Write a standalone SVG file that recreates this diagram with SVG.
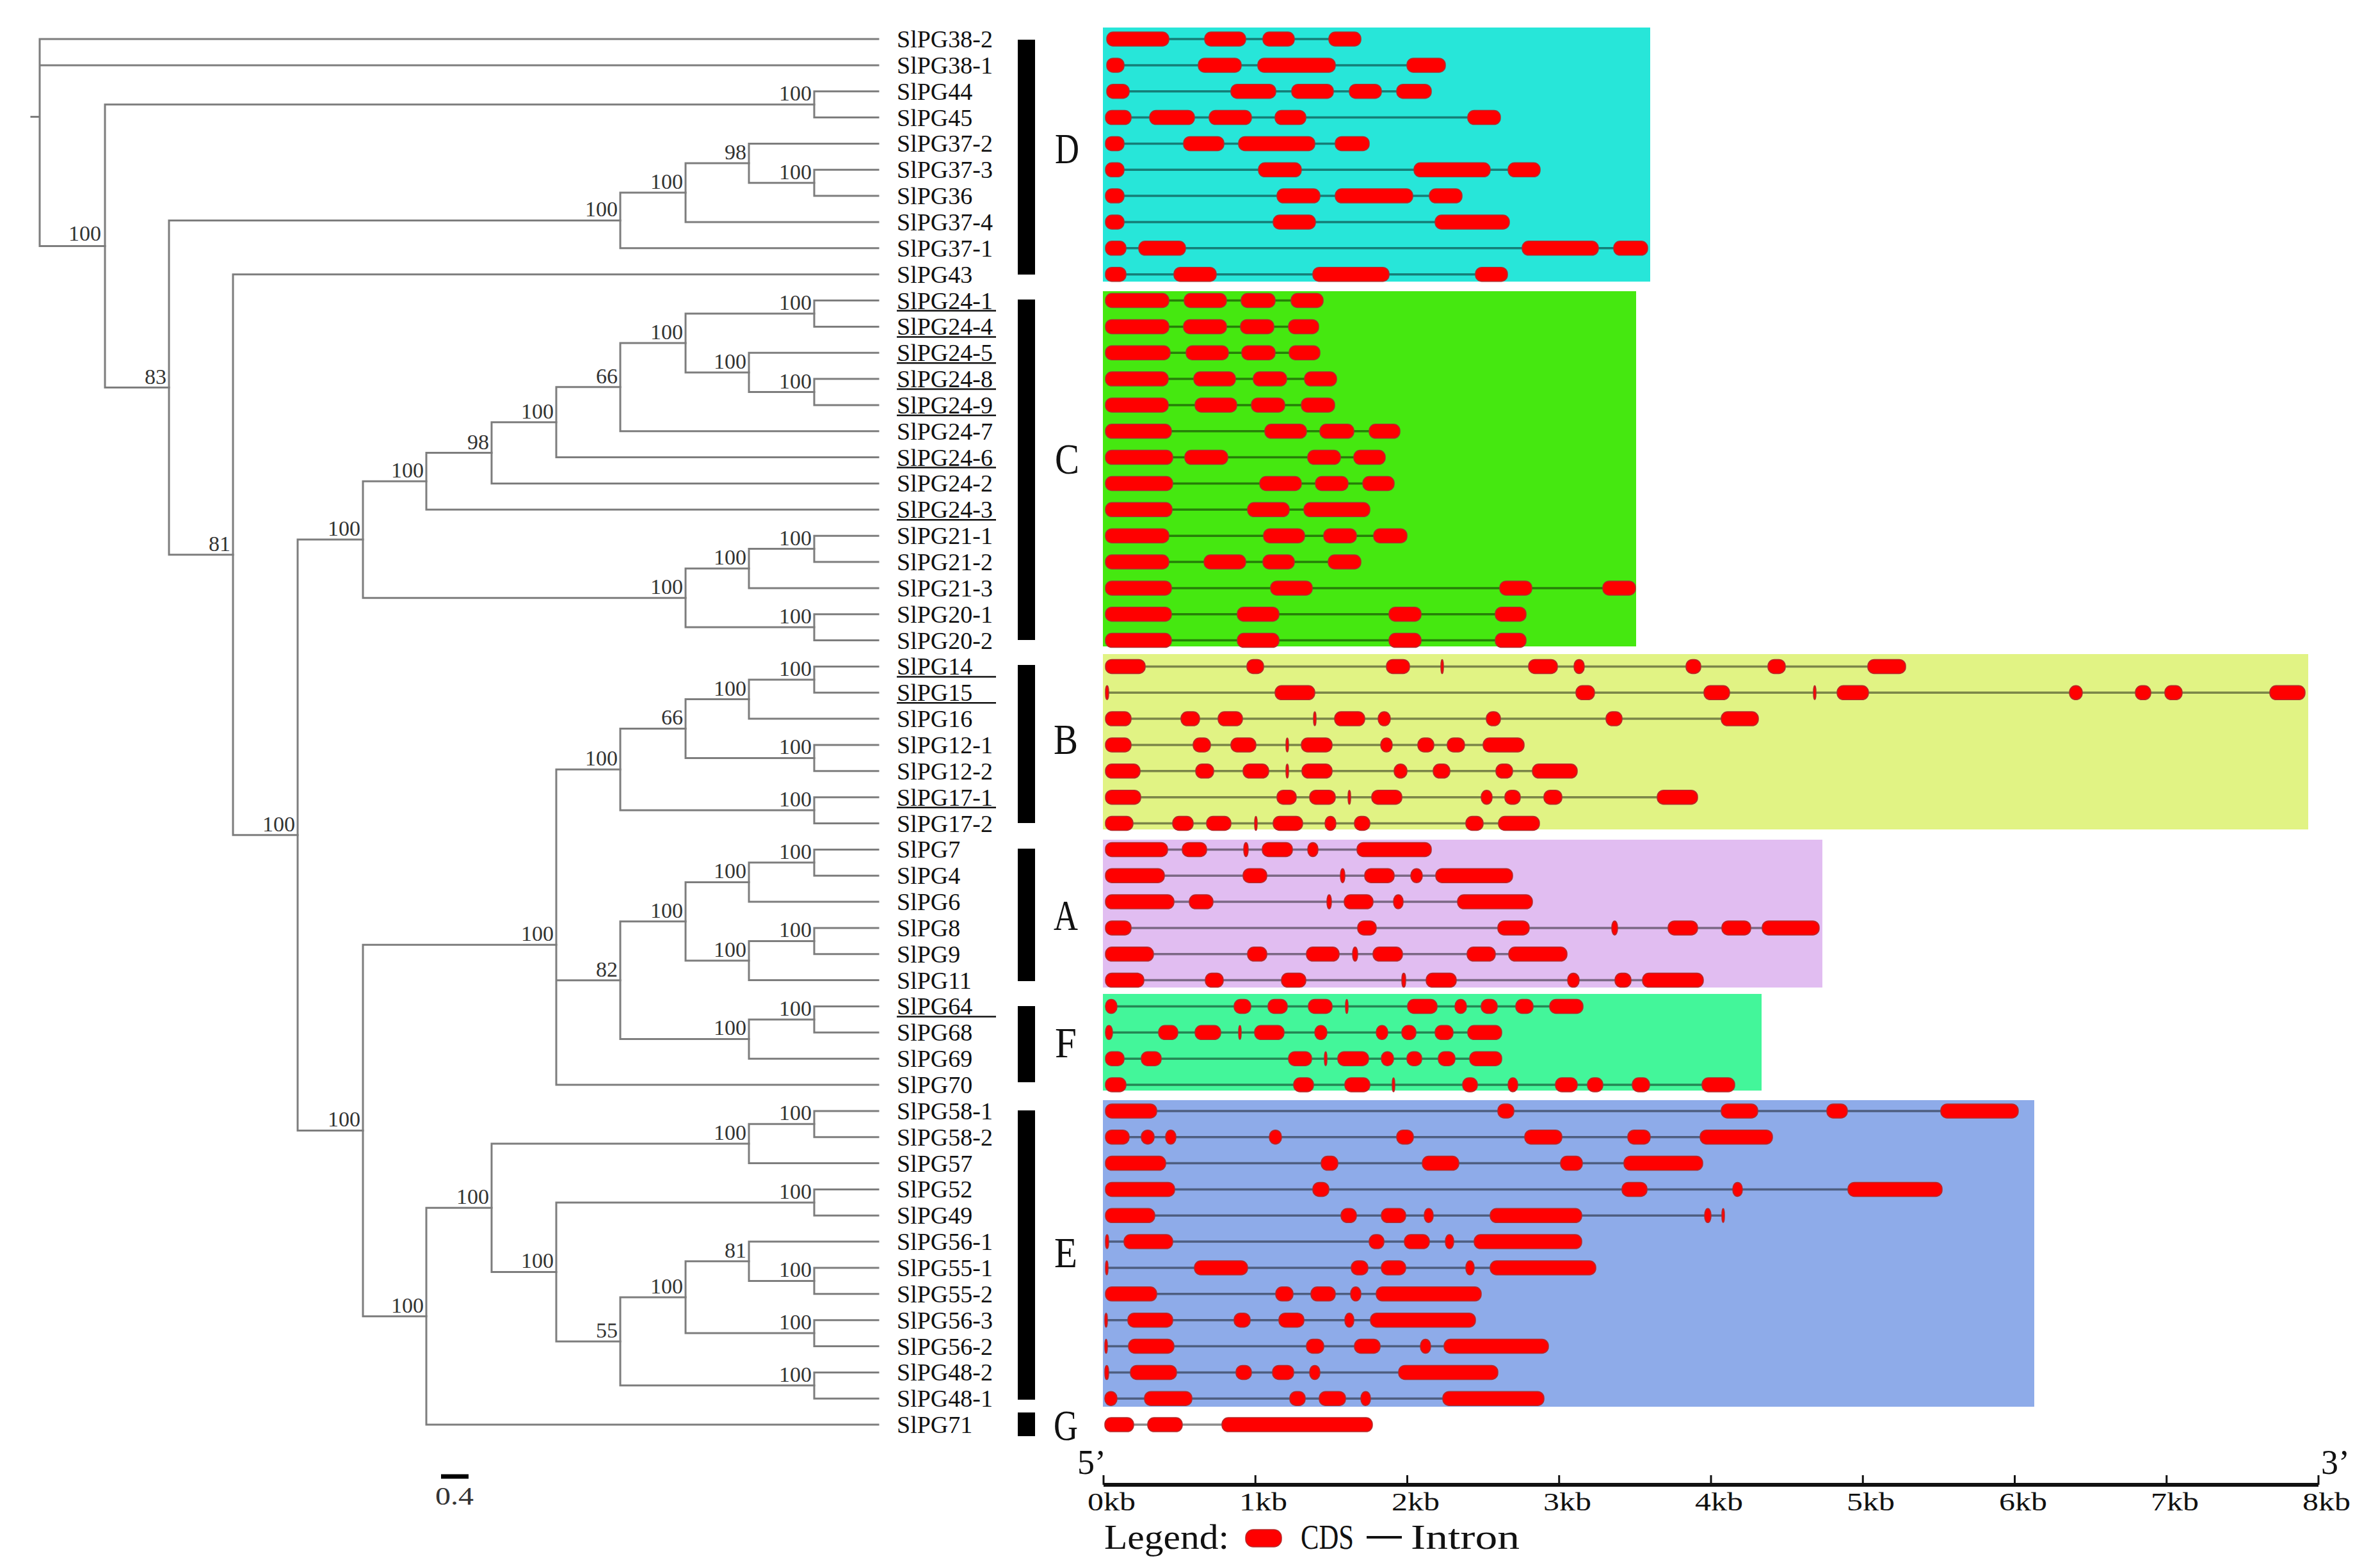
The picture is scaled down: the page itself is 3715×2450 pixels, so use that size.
<svg xmlns="http://www.w3.org/2000/svg" width="3715" height="2450" viewBox="0 0 3715 2450">
<style>
.br{stroke:#7d7d7d;stroke-width:3;fill:none;stroke-linecap:square}
.lf{font-family:"Liberation Serif",serif;font-size:38px;fill:#111}
.bs{font-family:"Liberation Serif",serif;font-size:34px;fill:#333;text-anchor:end}
.ul{stroke:#111;stroke-width:2.5}
.cl{font-family:"Liberation Serif",serif;font-size:68px;fill:#111;text-anchor:middle}
.in{stroke:#000;stroke-opacity:0.45;stroke-width:3.5}
.ex{fill:#ff0000;stroke:#b52a2a;stroke-width:1.5;rx:10px;ry:10px}
.ax{font-family:"Liberation Serif",serif;font-size:40px;fill:#111}
.lg{font-family:"Liberation Serif",serif;font-size:54px;fill:#111}
</style>
<rect width="3715" height="2450" fill="#fff"/>

<!-- clade background panels -->
<g id="panels">
<rect x="1723" y="43" width="855" height="397" fill="#27e6d9"/>
<rect x="1723" y="455" width="833" height="555" fill="#45e810"/>
<rect x="1723" y="1022" width="1883" height="274" fill="#e1f384"/>
<rect x="1723" y="1312" width="1124" height="231" fill="#e1bdf1"/>
<rect x="1723" y="1553" width="1029" height="151" fill="#43f69a"/>
<rect x="1723" y="1719" width="1455" height="479" fill="#8eabe9"/>
</g>

<!-- tree branches -->
<g id="connectors" class="br">
<path d="M62,61V384.4M62,61H1372M62,101.9H1372M62,384.4H164M49,182.4H62"/>
<path d="M164,163.2V605.6M164,163.2H1272M164,605.6H264"/>
<path d="M1272,142.7V183.6M1272,142.7H1372M1272,183.6H1372"/>
<path d="M264,344.4V866.8M264,344.4H969M264,866.8H364"/>
<path d="M969,301V387.8M969,301H1071M969,387.8H1372"/>
<path d="M1071,255V347M1071,255H1170M1071,347H1372"/>
<path d="M1170,224.4V285.7M1170,224.4H1372M1170,285.7H1272"/>
<path d="M1272,265.3V306.1M1272,265.3H1372M1272,306.1H1372"/>
<path d="M364,428.7V1304.8M364,428.7H1372M364,1304.8H465"/>
<path d="M465,843.1V1766.5M465,843.1H567M465,1766.5H567"/>
<path d="M567,752V934.2M567,752H666M567,934.2H1071"/>
<path d="M666,707.6V796.3M666,707.6H768M666,796.3H1372"/>
<path d="M768,659.7V755.5M768,659.7H869M768,755.5H1372"/>
<path d="M869,604.8V714.6M869,604.8H969M869,714.6H1372"/>
<path d="M969,535.9V673.8M969,535.9H1071M969,673.8H1372"/>
<path d="M1071,490V581.9M1071,490H1272M1071,581.9H1170"/>
<path d="M1272,469.5V510.4M1272,469.5H1372M1272,510.4H1372"/>
<path d="M1170,551.2V612.5M1170,551.2H1372M1170,612.5H1272"/>
<path d="M1272,592.1V632.9M1272,592.1H1372M1272,632.9H1372"/>
<path d="M1071,888.2V980.1M1071,888.2H1170M1071,980.1H1272"/>
<path d="M1170,857.6V918.9M1170,857.6H1272M1170,918.9H1372"/>
<path d="M1272,837.2V878M1272,837.2H1372M1272,878H1372"/>
<path d="M1272,959.7V1000.6M1272,959.7H1372M1272,1000.6H1372"/>
<path d="M567,1476.3V2056.7M567,1476.3H869M567,2056.7H666"/>
<path d="M869,1202.3V1695M869,1202.3H969M869,1531.7H969M869,1695H1372"/>
<path d="M969,1138.5V1266.1M969,1138.5H1071M969,1266.1H1272"/>
<path d="M1071,1092.5V1184.4M1071,1092.5H1170M1071,1184.4H1272"/>
<path d="M1170,1061.9V1123.1M1170,1061.9H1272M1170,1123.1H1372"/>
<path d="M1272,1041.4V1082.3M1272,1041.4H1372M1272,1082.3H1372"/>
<path d="M1272,1164V1204.8M1272,1164H1372M1272,1204.8H1372"/>
<path d="M1272,1245.7V1286.5M1272,1245.7H1372M1272,1286.5H1372"/>
<path d="M969,1439.8V1623.6M969,1439.8H1071M969,1623.6H1170"/>
<path d="M1071,1378.5V1501M1071,1378.5H1170M1071,1501H1170"/>
<path d="M1170,1347.8V1409.1M1170,1347.8H1272M1170,1409.1H1372"/>
<path d="M1272,1327.4V1368.2M1272,1327.4H1372M1272,1368.2H1372"/>
<path d="M1170,1470.4V1531.6M1170,1470.4H1272M1170,1531.6H1372"/>
<path d="M1272,1449.9V1490.8M1272,1449.9H1372M1272,1490.8H1372"/>
<path d="M1170,1592.9V1654.2M1170,1592.9H1272M1170,1654.2H1372"/>
<path d="M1272,1572.5V1613.3M1272,1572.5H1372M1272,1613.3H1372"/>
<path d="M666,1887.2V2226.1M666,1887.2H768M666,2226.1H1372"/>
<path d="M768,1787V1987.4M768,1787H1170M768,1987.4H869"/>
<path d="M1170,1756.3V1817.6M1170,1756.3H1272M1170,1817.6H1372"/>
<path d="M1272,1735.9V1776.7M1272,1735.9H1372M1272,1776.7H1372"/>
<path d="M869,1878.9V2095.9M869,1878.9H1272M869,2095.9H969"/>
<path d="M1272,1858.4V1899.3M1272,1858.4H1372M1272,1899.3H1372"/>
<path d="M969,2027V2164.8M969,2027H1071M969,2164.8H1272"/>
<path d="M1071,1970.8V2083.1M1071,1970.8H1170M1071,2083.1H1272"/>
<path d="M1170,1940.1V2001.4M1170,1940.1H1372M1170,2001.4H1272"/>
<path d="M1272,1981V2021.8M1272,1981H1372M1272,2021.8H1372"/>
<path d="M1272,2062.7V2103.5M1272,2062.7H1372M1272,2103.5H1372"/>
<path d="M1272,2144.4V2185.2M1272,2144.4H1372M1272,2185.2H1372"/>
</g>

<!-- internal nodes: bootstrap values -->
<g id="bootstrap">
<text id="n1" class="bs" x="158" y="376">100</text>
<text id="n4445" class="bs" x="1268" y="157">100</text>
<text id="n2" class="bs" x="260" y="600">83</text>
<text id="nD" class="bs" x="965" y="338">100</text>
<text id="nD2" class="bs" x="1067" y="295">100</text>
<text id="nD3" class="bs" x="1166" y="249">98</text>
<text id="nD4" class="bs" x="1268" y="280">100</text>
<text id="n3" class="bs" x="360" y="861">81</text>
<text id="n4" class="bs" x="461" y="1299">100</text>
<text id="n5" class="bs" x="563" y="837">100</text>
<text id="nC1" class="bs" x="662" y="746">100</text>
<text id="nC2" class="bs" x="764" y="702">98</text>
<text id="nC3" class="bs" x="865" y="654">100</text>
<text id="nC4" class="bs" x="965" y="599">66</text>
<text id="nC5" class="bs" x="1067" y="530">100</text>
<text id="nC6" class="bs" x="1268" y="484">100</text>
<text id="nC7" class="bs" x="1166" y="576">100</text>
<text id="nC8" class="bs" x="1268" y="607">100</text>
<text id="nC9" class="bs" x="1067" y="928">100</text>
<text id="nC10" class="bs" x="1166" y="882">100</text>
<text id="nC11" class="bs" x="1268" y="852">100</text>
<text id="nC12" class="bs" x="1268" y="974">100</text>
<text id="n6" class="bs" x="563" y="1760">100</text>
<text id="n7" class="bs" x="865" y="1470">100</text>
<text id="nB1" class="bs" x="965" y="1196">100</text>
<text id="nB2" class="bs" x="1067" y="1132">66</text>
<text id="nB3" class="bs" x="1166" y="1087">100</text>
<text id="nB4" class="bs" x="1268" y="1056">100</text>
<text id="nB5" class="bs" x="1268" y="1178">100</text>
<text id="nB6" class="bs" x="1268" y="1260">100</text>
<text id="n82" class="bs" x="965" y="1526">82</text>
<text id="nA1" class="bs" x="1067" y="1434">100</text>
<text id="nA2" class="bs" x="1166" y="1372">100</text>
<text id="nA3" class="bs" x="1268" y="1342">100</text>
<text id="nA4" class="bs" x="1166" y="1495">100</text>
<text id="nA5" class="bs" x="1268" y="1464">100</text>
<text id="nF1" class="bs" x="1166" y="1617">100</text>
<text id="nF2" class="bs" x="1268" y="1587">100</text>
<text id="nE0" class="bs" x="662" y="2051">100</text>
<text id="nE1" class="bs" x="764" y="1881">100</text>
<text id="nE2" class="bs" x="1166" y="1781">100</text>
<text id="nE3" class="bs" x="1268" y="1750">100</text>
<text id="nE4" class="bs" x="865" y="1981">100</text>
<text id="nE5" class="bs" x="1268" y="1873">100</text>
<text id="nE6" class="bs" x="965" y="2090">55</text>
<text id="nE7" class="bs" x="1067" y="2021">100</text>
<text id="nE8" class="bs" x="1166" y="1965">81</text>
<text id="nE9" class="bs" x="1268" y="1995">100</text>
<text id="nE10" class="bs" x="1268" y="2077">100</text>
<text id="nE11" class="bs" x="1268" y="2159">100</text>
</g>

<!-- subfamily bars and letters -->
<g id="subfamilies">
<rect x="1590" y="62" width="27" height="367" fill="#000"/>
<rect x="1590" y="468" width="27" height="532" fill="#000"/>
<rect x="1590" y="1039" width="27" height="247" fill="#000"/>
<rect x="1590" y="1326" width="27" height="207" fill="#000"/>
<rect x="1590" y="1572" width="27" height="119" fill="#000"/>
<rect x="1590" y="1735" width="27" height="452" fill="#000"/>
<rect x="1590" y="2207" width="27" height="37" fill="#000"/>
<text class="cl" x="1667" y="255" textLength="38" lengthAdjust="spacingAndGlyphs">D</text>
<text class="cl" x="1667" y="740" textLength="38" lengthAdjust="spacingAndGlyphs">C</text>
<text class="cl" x="1665" y="1178" textLength="38" lengthAdjust="spacingAndGlyphs">B</text>
<text class="cl" x="1665" y="1453" textLength="38" lengthAdjust="spacingAndGlyphs">A</text>
<text class="cl" x="1665" y="1652" textLength="34" lengthAdjust="spacingAndGlyphs">F</text>
<text class="cl" x="1665" y="1980" textLength="36" lengthAdjust="spacingAndGlyphs">E</text>
<text class="cl" x="1665" y="2250" textLength="38" lengthAdjust="spacingAndGlyphs">G</text>
</g>

<!-- leaves: label + gene structure -->
<g id="SlPG38-2"><text class="lf" x="1401" y="74">SlPG38-2</text><g transform="translate(0,61)"><line class="in" x1="1729" x2="2126"/><rect class="ex" x="1729" y="-11" width="97" height="22"/><rect class="ex" x="1882" y="-11" width="64" height="22"/><rect class="ex" x="1973" y="-11" width="49" height="22"/><rect class="ex" x="2076" y="-11" width="50" height="22"/></g></g>
<g id="SlPG38-1"><text class="lf" x="1401" y="115">SlPG38-1</text><g transform="translate(0,101.9)"><line class="in" x1="1729" x2="2258"/><rect class="ex" x="1729" y="-11" width="27" height="22"/><rect class="ex" x="1872" y="-11" width="67" height="22"/><rect class="ex" x="1965" y="-11" width="121" height="22"/><rect class="ex" x="2198" y="-11" width="60" height="22"/></g></g>
<g id="SlPG44"><text class="lf" x="1401" y="156">SlPG44</text><g transform="translate(0,142.7)"><line class="in" x1="1729" x2="2236"/><rect class="ex" x="1729" y="-11" width="35" height="22"/><rect class="ex" x="1923" y="-11" width="70" height="22"/><rect class="ex" x="2018" y="-11" width="65" height="22"/><rect class="ex" x="2108" y="-11" width="50" height="22"/><rect class="ex" x="2182" y="-11" width="54" height="22"/></g></g>
<g id="SlPG45"><text class="lf" x="1401" y="197">SlPG45</text><g transform="translate(0,183.6)"><line class="in" x1="1727" x2="2344"/><rect class="ex" x="1727" y="-11" width="40" height="22"/><rect class="ex" x="1796" y="-11" width="70" height="22"/><rect class="ex" x="1889" y="-11" width="66" height="22"/><rect class="ex" x="1992" y="-11" width="48" height="22"/><rect class="ex" x="2293" y="-11" width="51" height="22"/></g></g>
<g id="SlPG37-2"><text class="lf" x="1401" y="237">SlPG37-2</text><g transform="translate(0,224.4)"><line class="in" x1="1727" x2="2139"/><rect class="ex" x="1727" y="-11" width="29" height="22"/><rect class="ex" x="1849" y="-11" width="63" height="22"/><rect class="ex" x="1935" y="-11" width="119" height="22"/><rect class="ex" x="2086" y="-11" width="53" height="22"/></g></g>
<g id="SlPG37-3"><text class="lf" x="1401" y="278">SlPG37-3</text><g transform="translate(0,265.3)"><line class="in" x1="1727" x2="2406"/><rect class="ex" x="1727" y="-11" width="29" height="22"/><rect class="ex" x="1966" y="-11" width="67" height="22"/><rect class="ex" x="2209" y="-11" width="119" height="22"/><rect class="ex" x="2356" y="-11" width="50" height="22"/></g></g>
<g id="SlPG36"><text class="lf" x="1401" y="319">SlPG36</text><g transform="translate(0,306.1)"><line class="in" x1="1727" x2="2284"/><rect class="ex" x="1727" y="-11" width="29" height="22"/><rect class="ex" x="1995" y="-11" width="67" height="22"/><rect class="ex" x="2086" y="-11" width="121" height="22"/><rect class="ex" x="2233" y="-11" width="51" height="22"/></g></g>
<g id="SlPG37-4"><text class="lf" x="1401" y="360">SlPG37-4</text><g transform="translate(0,347)"><line class="in" x1="1727" x2="2358"/><rect class="ex" x="1727" y="-11" width="29" height="22"/><rect class="ex" x="1989" y="-11" width="66" height="22"/><rect class="ex" x="2242" y="-11" width="116" height="22"/></g></g>
<g id="SlPG37-1"><text class="lf" x="1401" y="401">SlPG37-1</text><g transform="translate(0,387.8)"><line class="in" x1="1727" x2="2574"/><rect class="ex" x="1727" y="-11" width="32" height="22"/><rect class="ex" x="1779" y="-11" width="73" height="22"/><rect class="ex" x="2378" y="-11" width="119" height="22"/><rect class="ex" x="2521" y="-11" width="53" height="22"/></g></g>
<g id="SlPG43"><text class="lf" x="1401" y="442">SlPG43</text><g transform="translate(0,428.7)"><line class="in" x1="1727" x2="2355"/><rect class="ex" x="1727" y="-11" width="32" height="22"/><rect class="ex" x="1834" y="-11" width="66" height="22"/><rect class="ex" x="2051" y="-11" width="119" height="22"/><rect class="ex" x="2305" y="-11" width="50" height="22"/></g></g>
<g id="SlPG24-1"><text class="lf" x="1401" y="483">SlPG24-1</text><line class="ul" x1="1401" y1="485.5" x2="1556" y2="485.5"/><g transform="translate(0,469.5)"><line class="in" x1="1727" x2="2067"/><rect class="ex" x="1727" y="-11" width="99" height="22"/><rect class="ex" x="1850" y="-11" width="66" height="22"/><rect class="ex" x="1939" y="-11" width="53" height="22"/><rect class="ex" x="2017" y="-11" width="50" height="22"/></g></g>
<g id="SlPG24-4"><text class="lf" x="1401" y="523">SlPG24-4</text><line class="ul" x1="1401" y1="526.4" x2="1556" y2="526.4"/><g transform="translate(0,510.4)"><line class="in" x1="1727" x2="2060"/><rect class="ex" x="1727" y="-11" width="99" height="22"/><rect class="ex" x="1849" y="-11" width="67" height="22"/><rect class="ex" x="1938" y="-11" width="52" height="22"/><rect class="ex" x="2013" y="-11" width="47" height="22"/></g></g>
<g id="SlPG24-5"><text class="lf" x="1401" y="564">SlPG24-5</text><line class="ul" x1="1401" y1="567.2" x2="1556" y2="567.2"/><g transform="translate(0,551.2)"><line class="in" x1="1727" x2="2062"/><rect class="ex" x="1727" y="-11" width="101" height="22"/><rect class="ex" x="1853" y="-11" width="66" height="22"/><rect class="ex" x="1940" y="-11" width="52" height="22"/><rect class="ex" x="2014" y="-11" width="48" height="22"/></g></g>
<g id="SlPG24-8"><text class="lf" x="1401" y="605">SlPG24-8</text><line class="ul" x1="1401" y1="608.1" x2="1556" y2="608.1"/><g transform="translate(0,592.1)"><line class="in" x1="1727" x2="2088"/><rect class="ex" x="1727" y="-11" width="98" height="22"/><rect class="ex" x="1865" y="-11" width="65" height="22"/><rect class="ex" x="1958" y="-11" width="52" height="22"/><rect class="ex" x="2038" y="-11" width="50" height="22"/></g></g>
<g id="SlPG24-9"><text class="lf" x="1401" y="646">SlPG24-9</text><line class="ul" x1="1401" y1="648.9" x2="1556" y2="648.9"/><g transform="translate(0,632.9)"><line class="in" x1="1727" x2="2085"/><rect class="ex" x="1727" y="-11" width="98" height="22"/><rect class="ex" x="1867" y="-11" width="65" height="22"/><rect class="ex" x="1955" y="-11" width="52" height="22"/><rect class="ex" x="2033" y="-11" width="52" height="22"/></g></g>
<g id="SlPG24-7"><text class="lf" x="1401" y="687">SlPG24-7</text><g transform="translate(0,673.8)"><line class="in" x1="1727" x2="2187"/><rect class="ex" x="1727" y="-11" width="103" height="22"/><rect class="ex" x="1976" y="-11" width="65" height="22"/><rect class="ex" x="2062" y="-11" width="53" height="22"/><rect class="ex" x="2139" y="-11" width="48" height="22"/></g></g>
<g id="SlPG24-6"><text class="lf" x="1401" y="728">SlPG24-6</text><line class="ul" x1="1401" y1="730.6" x2="1556" y2="730.6"/><g transform="translate(0,714.6)"><line class="in" x1="1727" x2="2164"/><rect class="ex" x="1727" y="-11" width="105" height="22"/><rect class="ex" x="1851" y="-11" width="67" height="22"/><rect class="ex" x="2043" y="-11" width="51" height="22"/><rect class="ex" x="2115" y="-11" width="49" height="22"/></g></g>
<g id="SlPG24-2"><text class="lf" x="1401" y="768">SlPG24-2</text><g transform="translate(0,755.5)"><line class="in" x1="1727" x2="2178"/><rect class="ex" x="1727" y="-11" width="105" height="22"/><rect class="ex" x="1968" y="-11" width="65" height="22"/><rect class="ex" x="2055" y="-11" width="51" height="22"/><rect class="ex" x="2129" y="-11" width="49" height="22"/></g></g>
<g id="SlPG24-3"><text class="lf" x="1401" y="809">SlPG24-3</text><line class="ul" x1="1401" y1="812.3" x2="1556" y2="812.3"/><g transform="translate(0,796.3)"><line class="in" x1="1727" x2="2140"/><rect class="ex" x="1727" y="-11" width="104" height="22"/><rect class="ex" x="1949" y="-11" width="65" height="22"/><rect class="ex" x="2037" y="-11" width="103" height="22"/></g></g>
<g id="SlPG21-1"><text class="lf" x="1401" y="850">SlPG21-1</text><g transform="translate(0,837.2)"><line class="in" x1="1727" x2="2198"/><rect class="ex" x="1727" y="-11" width="99" height="22"/><rect class="ex" x="1974" y="-11" width="64" height="22"/><rect class="ex" x="2068" y="-11" width="51" height="22"/><rect class="ex" x="2146" y="-11" width="52" height="22"/></g></g>
<g id="SlPG21-2"><text class="lf" x="1401" y="891">SlPG21-2</text><g transform="translate(0,878)"><line class="in" x1="1727" x2="2126"/><rect class="ex" x="1727" y="-11" width="99" height="22"/><rect class="ex" x="1881" y="-11" width="65" height="22"/><rect class="ex" x="1973" y="-11" width="49" height="22"/><rect class="ex" x="2075" y="-11" width="51" height="22"/></g></g>
<g id="SlPG21-3"><text class="lf" x="1401" y="932">SlPG21-3</text><g transform="translate(0,918.9)"><line class="in" x1="1727" x2="2555"/><rect class="ex" x="1727" y="-11" width="103" height="22"/><rect class="ex" x="1985" y="-11" width="65" height="22"/><rect class="ex" x="2343" y="-11" width="50" height="22"/><rect class="ex" x="2504" y="-11" width="51" height="22"/></g></g>
<g id="SlPG20-1"><text class="lf" x="1401" y="973">SlPG20-1</text><g transform="translate(0,959.7)"><line class="in" x1="1727" x2="2384"/><rect class="ex" x="1727" y="-11" width="103" height="22"/><rect class="ex" x="1933" y="-11" width="65" height="22"/><rect class="ex" x="2170" y="-11" width="50" height="22"/><rect class="ex" x="2336" y="-11" width="48" height="22"/></g></g>
<g id="SlPG20-2"><text class="lf" x="1401" y="1014">SlPG20-2</text><g transform="translate(0,1000.6)"><line class="in" x1="1727" x2="2384"/><rect class="ex" x="1727" y="-11" width="103" height="22"/><rect class="ex" x="1933" y="-11" width="65" height="22"/><rect class="ex" x="2170" y="-11" width="50" height="22"/><rect class="ex" x="2336" y="-11" width="48" height="22"/></g></g>
<g id="SlPG14"><text class="lf" x="1401" y="1054">SlPG14</text><line class="ul" x1="1401" y1="1057.4" x2="1556" y2="1057.4"/><g transform="translate(0,1041.4)"><line class="in" x1="1727" x2="2977"/><rect class="ex" x="1727" y="-11" width="62" height="22"/><rect class="ex" x="1948" y="-11" width="26" height="22"/><rect class="ex" x="2166" y="-11" width="36" height="22"/><rect class="ex" x="2251" y="-11" width="4" height="22"/><rect class="ex" x="2388" y="-11" width="45" height="22"/><rect class="ex" x="2459" y="-11" width="16" height="22"/><rect class="ex" x="2634" y="-11" width="23" height="22"/><rect class="ex" x="2762" y="-11" width="27" height="22"/><rect class="ex" x="2918" y="-11" width="59" height="22"/></g></g>
<g id="SlPG15"><text class="lf" x="1401" y="1095">SlPG15</text><line class="ul" x1="1401" y1="1098.3" x2="1556" y2="1098.3"/><g transform="translate(0,1082.3)"><line class="in" x1="1727" x2="3601"/><rect class="ex" x="1727" y="-11" width="5" height="22"/><rect class="ex" x="1992" y="-11" width="62" height="22"/><rect class="ex" x="2462" y="-11" width="29" height="22"/><rect class="ex" x="2662" y="-11" width="40" height="22"/><rect class="ex" x="2833" y="-11" width="4" height="22"/><rect class="ex" x="2870" y="-11" width="49" height="22"/><rect class="ex" x="3233" y="-11" width="20" height="22"/><rect class="ex" x="3336" y="-11" width="24" height="22"/><rect class="ex" x="3382" y="-11" width="27" height="22"/><rect class="ex" x="3546" y="-11" width="55" height="22"/></g></g>
<g id="SlPG16"><text class="lf" x="1401" y="1136">SlPG16</text><g transform="translate(0,1123.1)"><line class="in" x1="1727" x2="2747"/><rect class="ex" x="1727" y="-11" width="40" height="22"/><rect class="ex" x="1845" y="-11" width="29" height="22"/><rect class="ex" x="1903" y="-11" width="38" height="22"/><rect class="ex" x="2052" y="-11" width="4" height="22"/><rect class="ex" x="2085" y="-11" width="47" height="22"/><rect class="ex" x="2153" y="-11" width="19" height="22"/><rect class="ex" x="2322" y="-11" width="22" height="22"/><rect class="ex" x="2509" y="-11" width="25" height="22"/><rect class="ex" x="2689" y="-11" width="58" height="22"/></g></g>
<g id="SlPG12-1"><text class="lf" x="1401" y="1177">SlPG12-1</text><g transform="translate(0,1164)"><line class="in" x1="1727" x2="2381"/><rect class="ex" x="1727" y="-11" width="40" height="22"/><rect class="ex" x="1864" y="-11" width="27" height="22"/><rect class="ex" x="1923" y="-11" width="39" height="22"/><rect class="ex" x="2009" y="-11" width="4" height="22"/><rect class="ex" x="2033" y="-11" width="48" height="22"/><rect class="ex" x="2157" y="-11" width="18" height="22"/><rect class="ex" x="2215" y="-11" width="25" height="22"/><rect class="ex" x="2261" y="-11" width="27" height="22"/><rect class="ex" x="2317" y="-11" width="64" height="22"/></g></g>
<g id="SlPG12-2"><text class="lf" x="1401" y="1218">SlPG12-2</text><g transform="translate(0,1204.8)"><line class="in" x1="1727" x2="2464"/><rect class="ex" x="1727" y="-11" width="54" height="22"/><rect class="ex" x="1868" y="-11" width="28" height="22"/><rect class="ex" x="1942" y="-11" width="40" height="22"/><rect class="ex" x="2009" y="-11" width="4" height="22"/><rect class="ex" x="2034" y="-11" width="47" height="22"/><rect class="ex" x="2178" y="-11" width="20" height="22"/><rect class="ex" x="2239" y="-11" width="26" height="22"/><rect class="ex" x="2337" y="-11" width="26" height="22"/><rect class="ex" x="2394" y="-11" width="70" height="22"/></g></g>
<g id="SlPG17-1"><text class="lf" x="1401" y="1259">SlPG17-1</text><line class="ul" x1="1401" y1="1261.7" x2="1556" y2="1261.7"/><g transform="translate(0,1245.7)"><line class="in" x1="1727" x2="2652"/><rect class="ex" x="1727" y="-11" width="55" height="22"/><rect class="ex" x="1995" y="-11" width="30" height="22"/><rect class="ex" x="2046" y="-11" width="40" height="22"/><rect class="ex" x="2106" y="-11" width="4" height="22"/><rect class="ex" x="2143" y="-11" width="47" height="22"/><rect class="ex" x="2314" y="-11" width="17" height="22"/><rect class="ex" x="2351" y="-11" width="24" height="22"/><rect class="ex" x="2412" y="-11" width="28" height="22"/><rect class="ex" x="2589" y="-11" width="63" height="22"/></g></g>
<g id="SlPG17-2"><text class="lf" x="1401" y="1300">SlPG17-2</text><g transform="translate(0,1286.5)"><line class="in" x1="1727" x2="2405"/><rect class="ex" x="1727" y="-11" width="43" height="22"/><rect class="ex" x="1832" y="-11" width="32" height="22"/><rect class="ex" x="1885" y="-11" width="38" height="22"/><rect class="ex" x="1960" y="-11" width="4" height="22"/><rect class="ex" x="1989" y="-11" width="46" height="22"/><rect class="ex" x="2070" y="-11" width="17" height="22"/><rect class="ex" x="2116" y="-11" width="24" height="22"/><rect class="ex" x="2290" y="-11" width="27" height="22"/><rect class="ex" x="2341" y="-11" width="64" height="22"/></g></g>
<g id="SlPG7"><text class="lf" x="1401" y="1340">SlPG7</text><g transform="translate(0,1327.4)"><line class="in" x1="1727" x2="2236"/><rect class="ex" x="1727" y="-11" width="97" height="22"/><rect class="ex" x="1847" y="-11" width="38" height="22"/><rect class="ex" x="1943" y="-11" width="7" height="22"/><rect class="ex" x="1972" y="-11" width="47" height="22"/><rect class="ex" x="2043" y="-11" width="16" height="22"/><rect class="ex" x="2120" y="-11" width="116" height="22"/></g></g>
<g id="SlPG4"><text class="lf" x="1401" y="1381">SlPG4</text><g transform="translate(0,1368.2)"><line class="in" x1="1727" x2="2363"/><rect class="ex" x="1727" y="-11" width="92" height="22"/><rect class="ex" x="1942" y="-11" width="37" height="22"/><rect class="ex" x="2094" y="-11" width="7" height="22"/><rect class="ex" x="2132" y="-11" width="46" height="22"/><rect class="ex" x="2204" y="-11" width="18" height="22"/><rect class="ex" x="2243" y="-11" width="120" height="22"/></g></g>
<g id="SlPG6"><text class="lf" x="1401" y="1422">SlPG6</text><g transform="translate(0,1409.1)"><line class="in" x1="1727" x2="2394"/><rect class="ex" x="1727" y="-11" width="107" height="22"/><rect class="ex" x="1858" y="-11" width="37" height="22"/><rect class="ex" x="2073" y="-11" width="7" height="22"/><rect class="ex" x="2100" y="-11" width="45" height="22"/><rect class="ex" x="2177" y="-11" width="15" height="22"/><rect class="ex" x="2277" y="-11" width="117" height="22"/></g></g>
<g id="SlPG8"><text class="lf" x="1401" y="1463">SlPG8</text><g transform="translate(0,1449.9)"><line class="in" x1="1727" x2="2842"/><rect class="ex" x="1727" y="-11" width="40" height="22"/><rect class="ex" x="2121" y="-11" width="29" height="22"/><rect class="ex" x="2340" y="-11" width="49" height="22"/><rect class="ex" x="2518" y="-11" width="9" height="22"/><rect class="ex" x="2606" y="-11" width="46" height="22"/><rect class="ex" x="2690" y="-11" width="45" height="22"/><rect class="ex" x="2753" y="-11" width="89" height="22"/></g></g>
<g id="SlPG9"><text class="lf" x="1401" y="1504">SlPG9</text><g transform="translate(0,1490.8)"><line class="in" x1="1727" x2="2448"/><rect class="ex" x="1727" y="-11" width="75" height="22"/><rect class="ex" x="1949" y="-11" width="30" height="22"/><rect class="ex" x="2041" y="-11" width="51" height="22"/><rect class="ex" x="2113" y="-11" width="8" height="22"/><rect class="ex" x="2145" y="-11" width="46" height="22"/><rect class="ex" x="2292" y="-11" width="44" height="22"/><rect class="ex" x="2357" y="-11" width="91" height="22"/></g></g>
<g id="SlPG11"><text class="lf" x="1401" y="1545">SlPG11</text><g transform="translate(0,1531.6)"><line class="in" x1="1727" x2="2661"/><rect class="ex" x="1727" y="-11" width="60" height="22"/><rect class="ex" x="1883" y="-11" width="28" height="22"/><rect class="ex" x="2002" y="-11" width="38" height="22"/><rect class="ex" x="2190" y="-11" width="6" height="22"/><rect class="ex" x="2228" y="-11" width="47" height="22"/><rect class="ex" x="2449" y="-11" width="18" height="22"/><rect class="ex" x="2523" y="-11" width="25" height="22"/><rect class="ex" x="2566" y="-11" width="95" height="22"/></g></g>
<g id="SlPG64"><text class="lf" x="1401" y="1585">SlPG64</text><line class="ul" x1="1401" y1="1588.5" x2="1556" y2="1588.5"/><g transform="translate(0,1572.5)"><line class="in" x1="1727" x2="2473"/><rect class="ex" x="1727" y="-11" width="18" height="22"/><rect class="ex" x="1928" y="-11" width="26" height="22"/><rect class="ex" x="1981" y="-11" width="30" height="22"/><rect class="ex" x="2044" y="-11" width="37" height="22"/><rect class="ex" x="2102" y="-11" width="4" height="22"/><rect class="ex" x="2199" y="-11" width="46" height="22"/><rect class="ex" x="2273" y="-11" width="18" height="22"/><rect class="ex" x="2314" y="-11" width="25" height="22"/><rect class="ex" x="2368" y="-11" width="27" height="22"/><rect class="ex" x="2421" y="-11" width="52" height="22"/></g></g>
<g id="SlPG68"><text class="lf" x="1401" y="1626">SlPG68</text><g transform="translate(0,1613.3)"><line class="in" x1="1727" x2="2346"/><rect class="ex" x="1727" y="-11" width="11" height="22"/><rect class="ex" x="1810" y="-11" width="30" height="22"/><rect class="ex" x="1867" y="-11" width="40" height="22"/><rect class="ex" x="1935" y="-11" width="4" height="22"/><rect class="ex" x="1960" y="-11" width="46" height="22"/><rect class="ex" x="2054" y="-11" width="19" height="22"/><rect class="ex" x="2150" y="-11" width="18" height="22"/><rect class="ex" x="2190" y="-11" width="22" height="22"/><rect class="ex" x="2242" y="-11" width="28" height="22"/><rect class="ex" x="2293" y="-11" width="53" height="22"/></g></g>
<g id="SlPG69"><text class="lf" x="1401" y="1667">SlPG69</text><g transform="translate(0,1654.2)"><line class="in" x1="1727" x2="2346"/><rect class="ex" x="1727" y="-11" width="29" height="22"/><rect class="ex" x="1783" y="-11" width="31" height="22"/><rect class="ex" x="2013" y="-11" width="36" height="22"/><rect class="ex" x="2069" y="-11" width="4" height="22"/><rect class="ex" x="2090" y="-11" width="48" height="22"/><rect class="ex" x="2158" y="-11" width="19" height="22"/><rect class="ex" x="2198" y="-11" width="23" height="22"/><rect class="ex" x="2247" y="-11" width="26" height="22"/><rect class="ex" x="2296" y="-11" width="50" height="22"/></g></g>
<g id="SlPG70"><text class="lf" x="1401" y="1708">SlPG70</text><g transform="translate(0,1695)"><line class="in" x1="1727" x2="2710"/><rect class="ex" x="1727" y="-11" width="32" height="22"/><rect class="ex" x="2021" y="-11" width="31" height="22"/><rect class="ex" x="2101" y="-11" width="39" height="22"/><rect class="ex" x="2175" y="-11" width="4" height="22"/><rect class="ex" x="2285" y="-11" width="23" height="22"/><rect class="ex" x="2356" y="-11" width="15" height="22"/><rect class="ex" x="2430" y="-11" width="34" height="22"/><rect class="ex" x="2480" y="-11" width="24" height="22"/><rect class="ex" x="2550" y="-11" width="27" height="22"/><rect class="ex" x="2659" y="-11" width="51" height="22"/></g></g>
<g id="SlPG58-1"><text class="lf" x="1401" y="1749">SlPG58-1</text><g transform="translate(0,1735.9)"><line class="in" x1="1727" x2="3153"/><rect class="ex" x="1727" y="-11" width="80" height="22"/><rect class="ex" x="2340" y="-11" width="25" height="22"/><rect class="ex" x="2689" y="-11" width="57" height="22"/><rect class="ex" x="2854" y="-11" width="32" height="22"/><rect class="ex" x="3032" y="-11" width="121" height="22"/></g></g>
<g id="SlPG58-2"><text class="lf" x="1401" y="1790">SlPG58-2</text><g transform="translate(0,1776.7)"><line class="in" x1="1727" x2="2769"/><rect class="ex" x="1727" y="-11" width="37" height="22"/><rect class="ex" x="1783" y="-11" width="20" height="22"/><rect class="ex" x="1821" y="-11" width="16" height="22"/><rect class="ex" x="1983" y="-11" width="19" height="22"/><rect class="ex" x="2182" y="-11" width="26" height="22"/><rect class="ex" x="2382" y="-11" width="58" height="22"/><rect class="ex" x="2543" y="-11" width="35" height="22"/><rect class="ex" x="2656" y="-11" width="113" height="22"/></g></g>
<g id="SlPG57"><text class="lf" x="1401" y="1831">SlPG57</text><g transform="translate(0,1817.6)"><line class="in" x1="1727" x2="2660"/><rect class="ex" x="1727" y="-11" width="94" height="22"/><rect class="ex" x="2064" y="-11" width="26" height="22"/><rect class="ex" x="2222" y="-11" width="57" height="22"/><rect class="ex" x="2438" y="-11" width="34" height="22"/><rect class="ex" x="2537" y="-11" width="123" height="22"/></g></g>
<g id="SlPG52"><text class="lf" x="1401" y="1871">SlPG52</text><g transform="translate(0,1858.4)"><line class="in" x1="1727" x2="3034"/><rect class="ex" x="1727" y="-11" width="108" height="22"/><rect class="ex" x="2051" y="-11" width="25" height="22"/><rect class="ex" x="2534" y="-11" width="39" height="22"/><rect class="ex" x="2707" y="-11" width="15" height="22"/><rect class="ex" x="2887" y="-11" width="147" height="22"/></g></g>
<g id="SlPG49"><text class="lf" x="1401" y="1912">SlPG49</text><g transform="translate(0,1899.3)"><line class="in" x1="1727" x2="2694"/><rect class="ex" x="1727" y="-11" width="77" height="22"/><rect class="ex" x="2095" y="-11" width="24" height="22"/><rect class="ex" x="2158" y="-11" width="38" height="22"/><rect class="ex" x="2225" y="-11" width="14" height="22"/><rect class="ex" x="2328" y="-11" width="143" height="22"/><rect class="ex" x="2663" y="-11" width="10" height="22"/><rect class="ex" x="2690" y="-11" width="4" height="22"/></g></g>
<g id="SlPG56-1"><text class="lf" x="1401" y="1953">SlPG56-1</text><g transform="translate(0,1940.1)"><line class="in" x1="1727" x2="2471"/><rect class="ex" x="1727" y="-11" width="5" height="22"/><rect class="ex" x="1756" y="-11" width="76" height="22"/><rect class="ex" x="2139" y="-11" width="23" height="22"/><rect class="ex" x="2194" y="-11" width="39" height="22"/><rect class="ex" x="2258" y="-11" width="13" height="22"/><rect class="ex" x="2303" y="-11" width="168" height="22"/></g></g>
<g id="SlPG55-1"><text class="lf" x="1401" y="1994">SlPG55-1</text><g transform="translate(0,1981)"><line class="in" x1="1727" x2="2493"/><rect class="ex" x="1727" y="-11" width="4" height="22"/><rect class="ex" x="1866" y="-11" width="83" height="22"/><rect class="ex" x="2111" y="-11" width="26" height="22"/><rect class="ex" x="2158" y="-11" width="38" height="22"/><rect class="ex" x="2290" y="-11" width="13" height="22"/><rect class="ex" x="2328" y="-11" width="165" height="22"/></g></g>
<g id="SlPG55-2"><text class="lf" x="1401" y="2035">SlPG55-2</text><g transform="translate(0,2021.8)"><line class="in" x1="1727" x2="2314"/><rect class="ex" x="1727" y="-11" width="80" height="22"/><rect class="ex" x="1993" y="-11" width="27" height="22"/><rect class="ex" x="2048" y="-11" width="38" height="22"/><rect class="ex" x="2110" y="-11" width="16" height="22"/><rect class="ex" x="2150" y="-11" width="164" height="22"/></g></g>
<g id="SlPG56-3"><text class="lf" x="1401" y="2076">SlPG56-3</text><g transform="translate(0,2062.7)"><line class="in" x1="1726" x2="2305"/><rect class="ex" x="1726" y="-11" width="4" height="22"/><rect class="ex" x="1762" y="-11" width="70" height="22"/><rect class="ex" x="1928" y="-11" width="25" height="22"/><rect class="ex" x="1998" y="-11" width="39" height="22"/><rect class="ex" x="2101" y="-11" width="14" height="22"/><rect class="ex" x="2141" y="-11" width="164" height="22"/></g></g>
<g id="SlPG56-2"><text class="lf" x="1401" y="2117">SlPG56-2</text><g transform="translate(0,2103.5)"><line class="in" x1="1726" x2="2419"/><rect class="ex" x="1726" y="-11" width="4" height="22"/><rect class="ex" x="1763" y="-11" width="71" height="22"/><rect class="ex" x="2041" y="-11" width="27" height="22"/><rect class="ex" x="2116" y="-11" width="40" height="22"/><rect class="ex" x="2219" y="-11" width="16" height="22"/><rect class="ex" x="2256" y="-11" width="163" height="22"/></g></g>
<g id="SlPG48-2"><text class="lf" x="1401" y="2157">SlPG48-2</text><g transform="translate(0,2144.4)"><line class="in" x1="1726" x2="2340"/><rect class="ex" x="1726" y="-11" width="6" height="22"/><rect class="ex" x="1766" y="-11" width="72" height="22"/><rect class="ex" x="1931" y="-11" width="24" height="22"/><rect class="ex" x="1988" y="-11" width="33" height="22"/><rect class="ex" x="2046" y="-11" width="16" height="22"/><rect class="ex" x="2185" y="-11" width="155" height="22"/></g></g>
<g id="SlPG48-1"><text class="lf" x="1401" y="2198">SlPG48-1</text><g transform="translate(0,2185.2)"><line class="in" x1="1726" x2="2412"/><rect class="ex" x="1726" y="-11" width="19" height="22"/><rect class="ex" x="1788" y="-11" width="74" height="22"/><rect class="ex" x="2015" y="-11" width="24" height="22"/><rect class="ex" x="2061" y="-11" width="41" height="22"/><rect class="ex" x="2126" y="-11" width="15" height="22"/><rect class="ex" x="2254" y="-11" width="158" height="22"/></g></g>
<g id="SlPG71"><text class="lf" x="1401" y="2239">SlPG71</text><g transform="translate(0,2226.1)"><line class="in" x1="1726" x2="2144"/><rect class="ex" x="1726" y="-11" width="45" height="22"/><rect class="ex" x="1793" y="-11" width="54" height="22"/><rect class="ex" x="1909" y="-11" width="235" height="22"/></g></g>

<!-- tree scale bar -->
<g id="scalebar">
<line x1="689" y1="2307" x2="732" y2="2307" stroke="#000" stroke-width="7"/>
<text x="680" y="2351" font-family="Liberation Serif, serif" font-size="40" fill="#333" textLength="60" lengthAdjust="spacingAndGlyphs">0.4</text>
</g>

<!-- gene length axis -->
<g id="axis">
<text class="lg" x="1683" y="2303" font-size="50">5’</text>
<text class="lg" x="3626" y="2303" font-size="50">3’</text>
<line x1="1724" y1="2320" x2="3622" y2="2320" stroke="#111" stroke-width="6"/>
<path d="M1724,2305V2320M1961.25,2305V2320M2198.5,2305V2320M2435.75,2305V2320M2673,2305V2320M2910.25,2305V2320M3147.5,2305V2320M3384.75,2305V2320M3622,2305V2320" stroke="#111" stroke-width="3"/>
<text class="ax" x="1699" y="2360" textLength="75" lengthAdjust="spacingAndGlyphs">0kb</text>
<text class="ax" x="1936" y="2360" textLength="75" lengthAdjust="spacingAndGlyphs">1kb</text>
<text class="ax" x="2174" y="2360" textLength="75" lengthAdjust="spacingAndGlyphs">2kb</text>
<text class="ax" x="2411" y="2360" textLength="75" lengthAdjust="spacingAndGlyphs">3kb</text>
<text class="ax" x="2648" y="2360" textLength="75" lengthAdjust="spacingAndGlyphs">4kb</text>
<text class="ax" x="2885" y="2360" textLength="75" lengthAdjust="spacingAndGlyphs">5kb</text>
<text class="ax" x="3123" y="2360" textLength="75" lengthAdjust="spacingAndGlyphs">6kb</text>
<text class="ax" x="3360" y="2360" textLength="75" lengthAdjust="spacingAndGlyphs">7kb</text>
<text class="ax" x="3597" y="2360" textLength="75" lengthAdjust="spacingAndGlyphs">8kb</text>
</g>

<!-- legend -->
<g id="legend">
<text class="lg" x="1725" y="2420" textLength="195" lengthAdjust="spacingAndGlyphs">Legend:</text>
<rect x="1946" y="2390" width="56" height="27" rx="12" ry="12" fill="#ff0000" stroke="#b52a2a" stroke-width="1.5"/>
<text class="lg" x="2032" y="2420" textLength="83" lengthAdjust="spacingAndGlyphs">CDS</text>
<line x1="2135" y1="2402" x2="2190" y2="2402" stroke="#111" stroke-width="4"/>
<text class="lg" x="2204" y="2420" textLength="170" lengthAdjust="spacingAndGlyphs">Intron</text>
</g>
</svg>
